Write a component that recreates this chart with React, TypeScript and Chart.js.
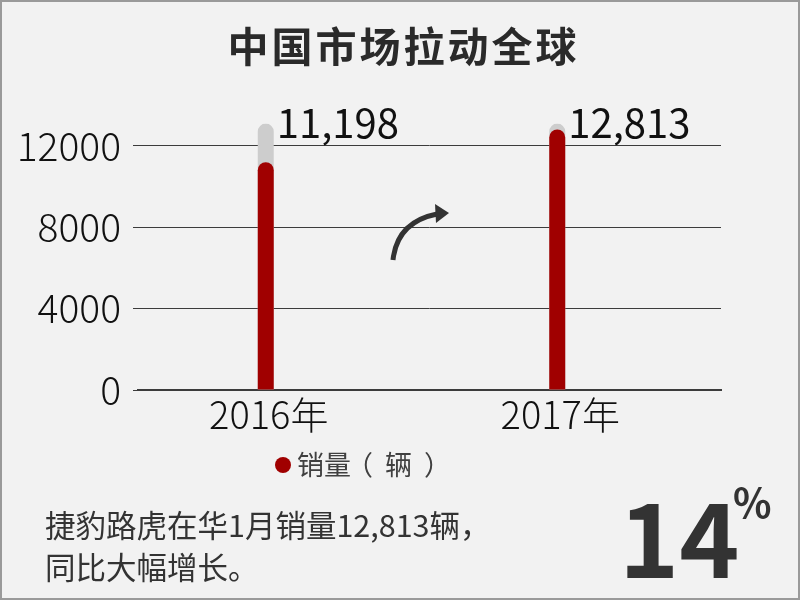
import React, { useEffect, useRef } from "react";
import { Chart, registerables } from "chart.js";

Chart.register(...registerables);

// ---- data ----
const CATEGORIES = ["2016年", "2017年"];
const SALES = [11198, 12813];
const TRACK = [13100, 13100];
const SPACER = [null, null];
const Y_TICKS = [0, 4000, 8000, 12000];
const Y_MAX = 13100;
const TITLE = "中国市场拉动全球";
const LEGEND_PARTS = ["销量", "（", "辆", "）"];
const NOTE_LINES = ["捷豹路虎在华1月销量12,813辆，", "同比大幅增长。"];
const GROWTH = "14";
const GROWTH_UNIT = "%";

const FONT = '"Noto Sans CJK SC", "Noto Sans", sans-serif';
const RED = "#a00000";
const TRACK_GREY = "#cdcdcd";
const INK = "#333333";
const GRID = "#3c3c3c";

const valueLabelPlugin = {
  id: "valueLabels",
  afterDatasetsDraw(chart: any) {
    const ctx = chart.ctx;
    const meta = chart.getDatasetMeta(1);
    ctx.save();
    ctx.font = `400 40px ${FONT}`;
    ctx.fillStyle = "#111111";
    ctx.textAlign = "left";
    ctx.textBaseline = "alphabetic";
    meta.data.forEach((el: any, i: number) => {
      ctx.fillText(SALES[i].toLocaleString("en-US"), el.x + 11, el.y + 14);
    });
    ctx.restore();
  },
};

export default function App() {
  const ref = useRef<HTMLCanvasElement | null>(null);

  useEffect(() => {
    if (!ref.current) return;
    const chart = new Chart(ref.current, {
      type: "bar",
      data: {
        labels: CATEGORIES,
        datasets: [
          {
            label: LEGEND_PARTS.join(""),
            data: SALES,
            backgroundColor: RED,
            stack: "main",
            order: 0,
            borderRadius: 8,
            borderSkipped: "start",
          },
          {
            label: "track",
            data: TRACK,
            backgroundColor: TRACK_GREY,
            stack: "main",
            order: 1,
            borderRadius: 8,
            borderSkipped: "start",
          },
          {
            label: "spacer",
            data: SPACER,
            backgroundColor: "rgba(0,0,0,0)",
            stack: "spacer",
            order: 2,
          },
        ],
      } as any,
      options: {
        responsive: false,
        animation: false,
        events: [],
        datasets: { bar: { categoryPercentage: 0.247, barPercentage: 0.444 } },
        layout: { padding: { left: 0, right: 79, top: 123.6, bottom: 150 } },
        plugins: { legend: { display: false }, tooltip: { enabled: false } },
        scales: {
          x: {
            grid: { display: false },
            border: { display: true, color: GRID, width: 2 },
            ticks: {
              color: "#111111",
              padding: -6,
              labelOffset: -15,
              font: { family: FONT, size: 38, weight: "300" },
            },
            afterFit: (s: any) => {
              s.height = 60;
            },
          },
          y: {
            stacked: false,
            min: 0,
            max: Y_MAX,
            afterBuildTicks: (s: any) => {
              s.ticks = Y_TICKS.map((v) => ({ value: v }));
            },
            afterFit: (s: any) => {
              s.width = 138;
            },
            grid: { color: GRID, lineWidth: 1, tickLength: 5 },
            border: { display: false },
            ticks: {
              color: "#111111",
              padding: 12,
              callback: (v: any) => String(v),
              font: { family: FONT, size: 39, weight: "300" },
            },
          },
        },
      } as any,
      plugins: [valueLabelPlugin],
    });
    return () => chart.destroy();
  }, []);

  return (
    <div
      style={{
        position: "fixed",
        left: 0,
        top: 0,
        width: 800,
        height: 600,
        background: "#f2f2f2",
        overflow: "hidden",
      }}
    >
      <canvas
        ref={ref}
        width={800}
        height={600}
        style={{ position: "absolute", left: 0, top: 0, width: 800, height: 600 }}
      />
      <svg
        width={800}
        height={600}
        style={{ position: "absolute", left: 0, top: 0 }}
        fontFamily={FONT}
      >
        <text
          x={403.5}
          y={62}
          textAnchor="middle"
          fontSize={41}
          fontWeight={700}
          letterSpacing={3}
          fill="#2a2a2a"
        >
          {TITLE}
        </text>

        <path
          d="M 393 260 Q 397 222 437 214"
          stroke={INK}
          strokeWidth={5}
          fill="none"
        />
        <polygon points="435,204 449,213 436,223" fill={INK} />

        <circle cx={283} cy={465} r={8} fill={RED} />
        <text x={297} y={475} fontSize={27} fill="#404040">
          <tspan>{LEGEND_PARTS[0]}</tspan>
          <tspan dx={-5}>{LEGEND_PARTS[1]}</tspan>
          <tspan dx={12}>{LEGEND_PARTS[2]}</tspan>
          <tspan dx={12}>{LEGEND_PARTS[3]}</tspan>
        </text>

        {NOTE_LINES.map((line, i) => (
          <text key={i} x={45} y={537 + i * 42} fontSize={30.5} fill={INK}>
            {line}
          </text>
        ))}

        <text x={619} y={578} fontSize={102} fontWeight={700} fill={INK}>
          {GROWTH}
        </text>
        <text x={733} y={518} fontSize={40} fontWeight={700} fill={INK}>
          {GROWTH_UNIT}
        </text>
      </svg>
      <div
        style={{
          position: "absolute",
          inset: 0,
          border: "2px solid #9a9a9a",
          pointerEvents: "none",
        }}
      />
    </div>
  );
}
